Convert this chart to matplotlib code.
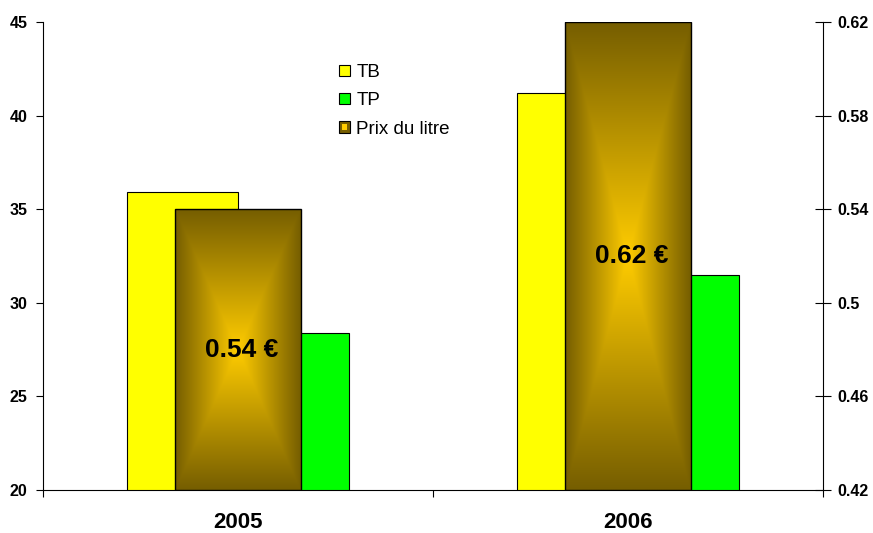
import matplotlib
matplotlib.use("Agg")
import matplotlib.pyplot as plt
import numpy as np
from matplotlib.patches import Rectangle
from matplotlib.legend_handler import HandlerBase
from matplotlib.ticker import FormatStrFormatter, FuncFormatter

plt.rcParams['font.family'] = ['Liberation Sans', 'DejaVu Sans']

years = ['2005', '2006']
tb = [35.9, 41.2]
tp = [28.4, 31.5]
prix = [0.54, 0.62]
prix_labels = ['0.54 €', '0.62 €']
left_ticks = [20, 25, 30, 35, 40, 45]
right_ticks = [0.42, 0.46, 0.50, 0.54, 0.58, 0.62]

yellow = '#FFFF00'
green = '#00FF00'
gold_center = np.array([255, 204, 0]) / 255
gold_edge = np.array([118, 94, 0]) / 255

fig = plt.figure(figsize=(8.73, 5.33), dpi=100)
ax = fig.add_axes([43/873, 1-490/533, (823-43)/873, (490-22)/533])
ax2 = ax.twinx()

x = np.arange(len(years))
w1 = 0.2846
w2 = 0.323

ax.bar(x - w1/2, tb, w1, bottom=0, color=yellow, edgecolor='black', linewidth=0.8, label='TB')
ax.bar(x + w1/2, tp, w1, color=green, edgecolor='black', linewidth=0.8, label='TP')
ax.set_ylim(20, 45)
ax.set_xlim(-0.5, 1.5)

# gradient bars for Prix du litre (rectangle "from centre" shading)
ny, nx = 200, 100
u = np.linspace(-1, 1, nx)
v = np.linspace(-1, 1, ny)
U, V = np.meshgrid(u, v)
t = np.maximum(np.abs(U), np.abs(V))
grad = gold_center[None, None, :] * (1 - t[..., None]) + gold_edge[None, None, :] * t[..., None]

ymin2 = right_ticks[0]
for i, p in enumerate(prix):
    ax2.imshow(grad, extent=[x[i]-w2/2, x[i]+w2/2, ymin2, p], aspect='auto', zorder=2, interpolation='bilinear')
    ax2.add_patch(Rectangle((x[i]-w2/2, ymin2), w2, p-ymin2, facecolor='none',
                            edgecolor='black', linewidth=1.0, zorder=3))
    ax2.text(x[i] + 0.01, (ymin2 + p) / 2, prix_labels[i], ha='center', va='center',
             fontsize=19, fontweight='bold', zorder=4)
ax2.set_ylim(0.42, 0.62)
ax2.set_xlim(-0.5, 1.5)

# spines and ticks
for a in (ax, ax2):
    a.spines['top'].set_visible(False)
    a.set_facecolor('none')
ax2.spines['left'].set_visible(False)
ax2.spines['bottom'].set_visible(False)
ax.spines['right'].set_visible(False)

ax.set_yticks(left_ticks)
ax.yaxis.set_major_formatter(FormatStrFormatter('%d'))
ax.tick_params(axis='y', direction='out', length=5, width=0.8, labelsize=11.5, pad=6)
for lab in ax.get_yticklabels():
    lab.set_fontweight('bold')

ax2.set_yticks(right_ticks)
ax2.yaxis.set_major_formatter(FuncFormatter(lambda val, pos: '%g' % round(val, 2)))
ax2.tick_params(axis='y', direction='inout', length=12, width=0.8, labelsize=11.5, pad=4)
for lab in ax2.get_yticklabels():
    lab.set_fontweight('bold')

ax.set_xticks([-0.5, 0.5, 1.5])
ax.set_xticklabels([])
ax.tick_params(axis='x', which='major', direction='out', length=5, width=0.8)
ax.set_xticks(x, minor=True)
ax.set_xticklabels(years, minor=True, fontsize=16, fontweight='bold')
ax.tick_params(axis='x', which='minor', length=0, pad=16)


# legend
class GradHandler(HandlerBase):
    def create_artists(self, legend, orig_handle, xdescent, ydescent, width, height, fontsize, trans):
        outer = Rectangle((-xdescent, -ydescent), width, height, facecolor=gold_edge,
                          edgecolor='black', linewidth=0.8, transform=trans)
        inner = Rectangle((-xdescent + width*0.25, -ydescent + height*0.25), width*0.5, height*0.5,
                          facecolor=gold_center, edgecolor='none', transform=trans)
        return [outer, inner]


h_tb = Rectangle((0, 0), 1, 1, facecolor=yellow, edgecolor='black', linewidth=0.8)
h_tp = Rectangle((0, 0), 1, 1, facecolor=green, edgecolor='black', linewidth=0.8)
h_px = Rectangle((0, 0), 1, 1)
leg = ax2.legend([h_tb, h_tp, h_px], ['TB', 'TP', 'Prix du litre'],
                 handler_map={h_px: GradHandler()},
                 loc='upper left', bbox_to_anchor=(339/873, 1-64/533), bbox_transform=fig.transFigure,
                 frameon=False, fontsize=13.5, borderpad=0, borderaxespad=0,
                 handlelength=0.58, handleheight=0.58, handletextpad=0.35, labelspacing=0.6)

fig.savefig('out.png', dpi=100)
